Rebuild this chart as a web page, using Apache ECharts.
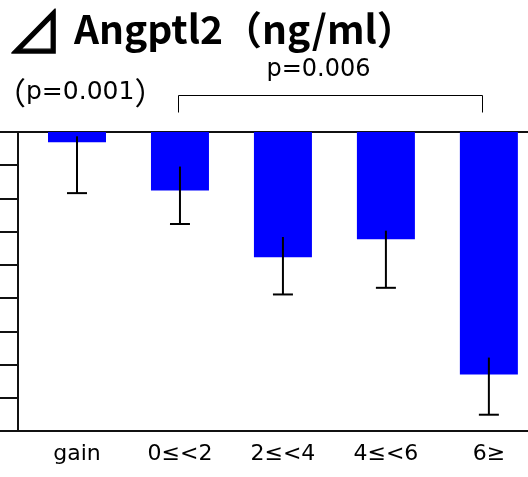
<!DOCTYPE html>
<html>
<head>
<meta charset="utf-8">
<script src="https://cdn.jsdelivr.net/npm/echarts@6/dist/echarts.min.js"></script>
<style>
  html, body { margin: 0; padding: 0; background: #fff; }
  #chart { width: 528px; height: 477px; }
</style>
</head>
<body>
<div id="chart"></div>
<script>
// BMI change groups and the change in Angptl2 for each group
const categories = ['gain', '0≤<2', '2≤<4', '4≤<6', '6≥'];
const meanChange = [-0.31, -1.76, -3.77, -3.23, -7.30];
const whiskerTop = [-0.13, -1.04, -3.16, -2.97, -6.79];
const whiskerBottom = [-1.84, -2.77, -4.89, -4.69, -8.51];
const yMin = -9;
const yMax = 0;
const yStep = 1;
// comparison bracket between groups (in category index units)
const bracketSpan = [0.98, 3.93];
const titleMark = '⊿';
const titleText = 'Angptl2（ng/ml）';
const trendValue = 'p=0.001';
const pairText = 'p=0.006';

const chart = echarts.init(document.getElementById('chart'), null, { renderer: 'canvas' });

const xMin = -0.573;
const xMax = 4.38;
const catIndex = categories.map((_, i) => i);

const axisColor = '#111';

const option = {
  animation: false,
  backgroundColor: '#fff',
  grid: { left: 18, right: 0, top: 132, bottom: 46, containLabel: false },
  xAxis: [
    {
      type: 'value', min: xMin, max: xMax, position: 'bottom',
      axisLine: { show: true, onZero: false, lineStyle: { color: axisColor, width: 2 } },
      axisTick: { show: false },
      splitLine: { show: false },
      axisLabel: {
        customValues: catIndex,
        formatter: v => categories[Math.round(v)] || '',
        color: '#000', fontSize: 22, fontFamily: 'DejaVu Sans', margin: 12
      }
    },
    {
      type: 'value', min: xMin, max: xMax, position: 'top',
      axisLine: { show: true, onZero: false, lineStyle: { color: axisColor, width: 2 } },
      axisTick: { show: false }, axisLabel: { show: false }, splitLine: { show: false }
    }
  ],
  yAxis: {
    type: 'value', min: yMin, max: yMax, interval: yStep, position: 'left',
    axisLine: { show: true, onZero: false, lineStyle: { color: axisColor, width: 2 } },
    axisTick: { show: true, inside: false, length: 18, lineStyle: { color: axisColor, width: 2 } },
    axisLabel: { show: false },
    splitLine: { show: false }
  },
  series: [
    {
      type: 'bar',
      xAxisIndex: 0,
      barWidth: 58,
      itemStyle: { color: '#0000ff' },
      data: meanChange.map((v, i) => [i, v])
    },
    {
      type: 'custom',
      xAxisIndex: 0,
      z: 5,
      data: catIndex.map(i => [i, whiskerTop[i], whiskerBottom[i]]),
      renderItem: (params, api) => {
        const top = api.coord([api.value(0), api.value(1)]);
        const bot = api.coord([api.value(0), api.value(2)]);
        const capHalf = 10;
        const style = { stroke: '#000', lineWidth: 2 };
        return {
          type: 'group',
          children: [
            { type: 'line', shape: { x1: top[0], y1: top[1], x2: bot[0], y2: bot[1] }, style },
            { type: 'line', shape: { x1: bot[0] - capHalf, y1: bot[1], x2: bot[0] + capHalf, y2: bot[1] }, style }
          ]
        };
      }
    }
  ]
};

chart.setOption(option);

const bx0 = Math.round(chart.convertToPixel({ xAxisIndex: 0 }, bracketSpan[0])) + 0.5;
const bx1 = Math.round(chart.convertToPixel({ xAxisIndex: 0 }, bracketSpan[1])) + 0.5;
const by = 95.5;
const drop = 17;

chart.setOption({
  graphic: [
    {
      type: 'text', left: 6, top: 3,
      style: { text: titleMark, font: '56px "Noto Sans CJK JP"', fill: '#000', stroke: '#000', lineWidth: 1.4 }
    },
    {
      type: 'text', left: 74, top: 10,
      style: { text: titleText, font: 'bold 39px "Noto Sans CJK JP"', fill: '#000' }
    },
    {
      type: 'text', left: -5, top: 77,
      style: {
        text: '{p|（}' + trendValue + '{p|）}',
        font: '25px "DejaVu Sans"', fill: '#000',
        rich: { p: { font: '31px "Noto Sans CJK JP"', fill: '#000' } }
      }
    },
    {
      type: 'text', x: (bx0 + bx1) / 2 - 12, y: 70,
      style: { text: pairText, font: '24px "DejaVu Sans"', fill: '#000', align: 'center', verticalAlign: 'middle' }
    },
    {
      type: 'polyline',
      shape: { points: [[bx0, by + drop], [bx0, by], [bx1, by], [bx1, by + drop]] },
      style: { stroke: '#000', lineWidth: 1, fill: null }
    }
  ]
});
</script>
</body>
</html>
